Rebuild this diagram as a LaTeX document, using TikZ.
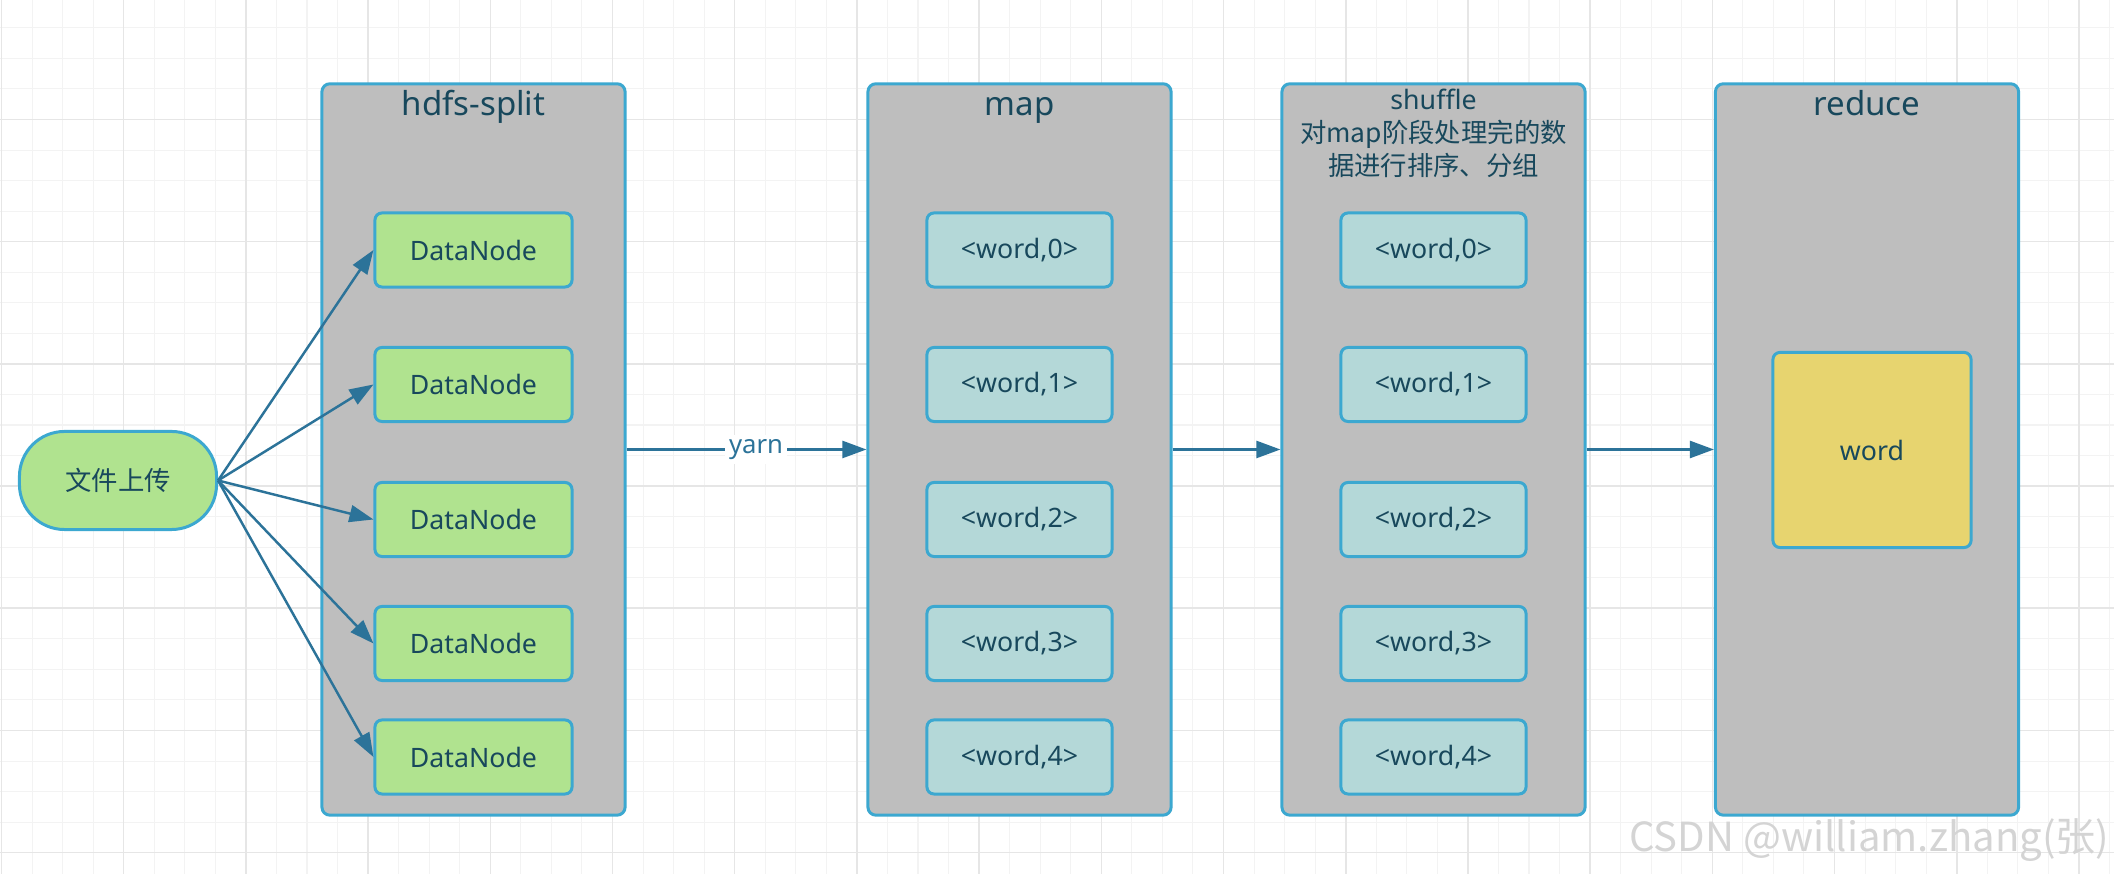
\documentclass[tikz,border=0pt]{standalone}
\usepackage{fontspec}
\setmainfont{Noto Sans}
\newfontfamily\cjk{Noto Sans CJK SC}
\usetikzlibrary{arrows.meta}

\definecolor{gridminor}{RGB}{243,243,243}
\definecolor{gridmajor}{RGB}{230,230,230}
\definecolor{stagefill}{RGB}{190,190,190}
\definecolor{edgeblue}{RGB}{60,168,208}
\definecolor{dnfill}{RGB}{176,227,143}
\definecolor{kvfill}{RGB}{180,216,216}
\definecolor{wordfill}{RGB}{231,212,111}
\definecolor{ink}{RGB}{24,72,92}
\definecolor{flowblue}{RGB}{44,115,153}
\definecolor{markgray}{RGB}{212,212,212}

\tikzset{
	stage/.style={draw=edgeblue, line width=0.85pt, fill=stagefill, rounded corners=0.08cm,
		minimum width=3.03cm, minimum height=7.31cm, inner sep=0pt},
	stagetitle/.style={text=ink, anchor=base, inner sep=0pt, font=\fontsize{9.4pt}{11pt}\selectfont},
	notetext/.style={text=ink, anchor=base, inner sep=0pt, font=\fontsize{7.5pt}{9pt}\cjk},
	cellbox/.style={draw=edgeblue, line width=0.85pt, rounded corners=0.07cm, inner sep=0pt,
		text=ink, font=\fontsize{7.6pt}{9pt}\selectfont},
	dnode/.style={cellbox, fill=dnfill, minimum width=1.97cm, minimum height=0.74cm},
	kvcell/.style={cellbox, fill=kvfill, minimum width=1.85cm, minimum height=0.74cm},
	flow/.style={draw=flowblue, line width=0.7pt, -{Triangle[length=0.24cm,width=0.17cm]}}
}

\begin{document}
\begin{tikzpicture}[x=0.01cm, y=-0.01cm]
	%%%%% BACKGROUND %%%%%
	\useasboundingbox[fill=white] (0,0) rectangle (2114,874);
	\foreach \k in {0,...,69}
		\draw[gridminor, line width=0.3pt] ({1.5+30.55*\k},0) -- ({1.5+30.55*\k},874);
	\foreach \k in {0,...,29}
		\draw[gridminor, line width=0.3pt] (0,{-2.7+30.55*\k}) -- (2114,{-2.7+30.55*\k});
	\foreach \k in {0,...,17}
		\draw[gridmajor, line width=0.45pt] ({1.5+122.2*\k},0) -- ({1.5+122.2*\k},874);
	\foreach \k in {0,...,7}
		\draw[gridmajor, line width=0.45pt] (0,{-2.7+122.2*\k}) -- (2114,{-2.7+122.2*\k});

	%%%%% STAGES %%%%%
	\node[stage] (hdfs) at (473.5,449.5) {};
	\node[stage] (map) at (1019.5,449.5) {};
	\node[stage] (shuffle) at (1433.5,449.5) {};
	\node[stage] (reduce) at (1867,449.5) {};

	\node[stagetitle] (hdfstitle) at (473.5,116) {hdfs-split};
	\node[stagetitle] (maptitle) at (1019.5,116) {map};
	\node[stagetitle] (reducetitle) at (1867,116) {reduce};
	\node[notetext, font=\fontsize{7.6pt}{9pt}\selectfont] (shuftitle) at (1433.5,110) {shuffle};
	\node[notetext] (shufnote1) at (1433.5,143) {对map阶段处理完的数};
	\node[notetext] (shufnote2) at (1433.5,176) {据进行排序、分组};

	%%%%% UPLOAD %%%%%
	\node[cellbox, fill=dnfill, rounded corners=0.45cm, minimum width=1.97cm, minimum height=0.98cm,
		font=\fontsize{7.5pt}{9pt}\cjk] (upload) at (118,480.5) {文件上传};

	%%%%% BOXES %%%%%
	\foreach \y [count=\i, count=\k from 0] in {250,384.5,519.5,643.5,757} {
		\node[dnode] (dn\i) at (473.5,\y) {DataNode};
		\node[kvcell] (mapkv\i) at (1019.5,\y) {<word,\k>};
		\node[kvcell] (shufkv\i) at (1433.5,\y) {<word,\k>};
		\draw[flow] (upload.east) -- (dn\i.west);
	}
	\node[cellbox, fill=wordfill, minimum width=1.98cm, minimum height=1.95cm] (word) at (1872,450) {word};

	%%%%% FLOW %%%%%
	\draw[flow] (hdfs.east) -- node[pos=0.54, fill=white, inner sep=1.2pt, text=flowblue,
		font=\fontsize{7.3pt}{9pt}\selectfont] (yarn) {yarn} (map.west);
	\draw[flow] (map.east) -- (shuffle.west);
	\draw[flow] (shuffle.east) -- (reduce.west);

	\node[anchor=base east, inner sep=0pt, text=markgray, font=\fontsize{11.4pt}{13pt}\cjk] (mark) at (2110,852) {CSDN @william.zhang(张)};
\end{tikzpicture}
\end{document}
